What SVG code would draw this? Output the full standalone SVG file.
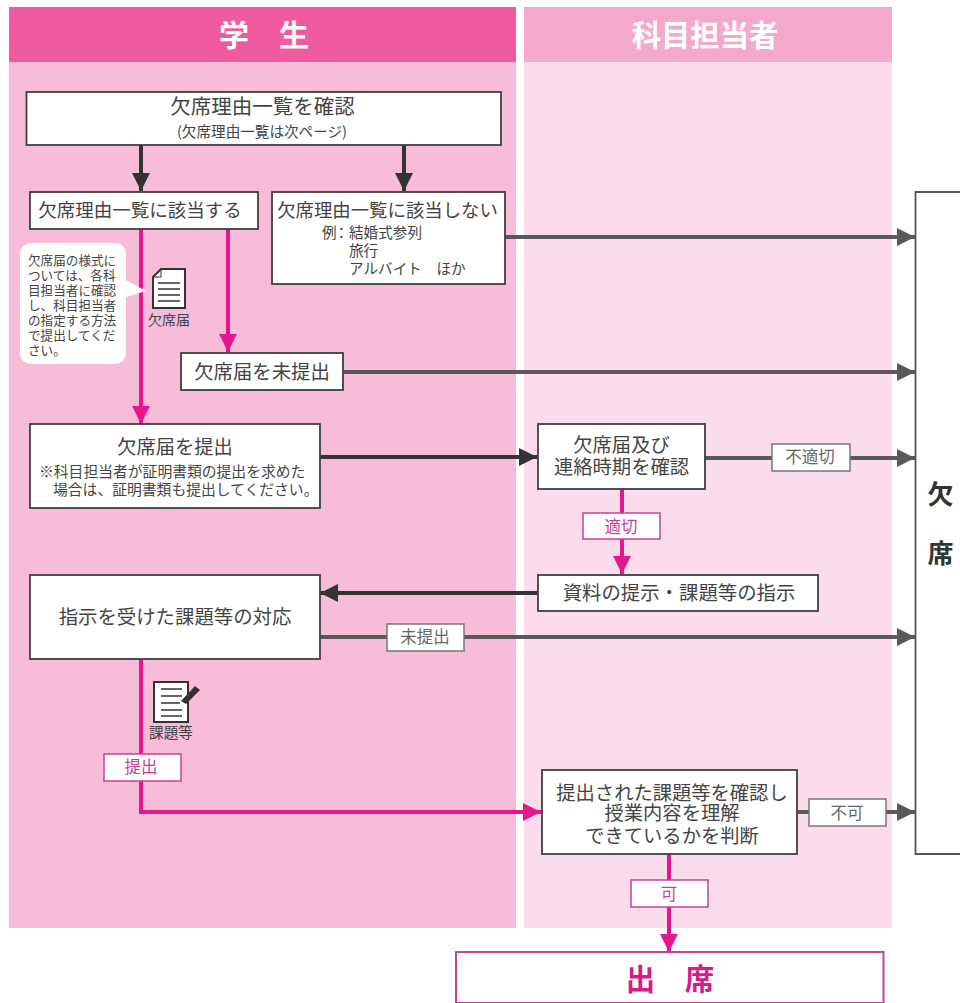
<svg xmlns="http://www.w3.org/2000/svg" width="960" height="1003" viewBox="0 0 960 1003">
<defs>
<marker id="ad" markerUnits="userSpaceOnUse" markerWidth="19" markerHeight="19" refX="18" refY="9" orient="auto"><path d="M0 0L18 9L0 18Z" fill="#333"/></marker>
<marker id="ag" markerUnits="userSpaceOnUse" markerWidth="19" markerHeight="19" refX="18" refY="9" orient="auto"><path d="M0 0L18 9L0 18Z" fill="#595959"/></marker>
<marker id="ap" markerUnits="userSpaceOnUse" markerWidth="19" markerHeight="19" refX="18" refY="9" orient="auto"><path d="M0 0L18 9L0 18Z" fill="#e6168c"/></marker>
</defs>
<style>
text{font-family:"Noto Sans CJK JP","Noto Sans",sans-serif;fill:#444;text-anchor:middle}
.box{fill:#fff;stroke:#3f3f3f;stroke-width:1.8}
.d{stroke:#333;stroke-width:4;fill:none}
.g{stroke:#595959;stroke-width:4;fill:none}
.p{stroke:#e6168c;stroke-width:4;fill:none}
.lg{fill:#fff;stroke:#777;stroke-width:1.5}
.lp{fill:#fff;stroke:#c8409a;stroke-width:1.5}
.h{fill:#fff;font-weight:700}
.t19{font-size:19.3px}.t14{font-size:14.6px}.t16{font-size:16.5px}.t12{font-size:12.6px}
.s{text-anchor:start}
.gt{fill:#666}.pt{fill:#cf3a9a}
</style>
<rect width="960" height="1003" fill="#fff"/>
<g id="lanes">
<rect x="9" y="7" width="507" height="921" fill="#f7bcd7"/>
<rect x="9" y="7" width="507" height="55" fill="#f05a9f"/>
<rect x="524" y="7" width="368" height="921" fill="#fbdcec"/>
<rect x="524" y="7" width="368" height="55" fill="#f4a9cc"/>
<text class="h" x="264" y="46" font-size="30" xml:space="preserve">学　生</text>
<text class="h" x="705" y="46" font-size="29.3">科目担当者</text>
</g>
<g id="connectors">
<path class="d" d="M141 145V191" marker-end="url(#ad)"/>
<path class="d" d="M404 145V191" marker-end="url(#ad)"/>
<path class="p" d="M141 229V424" marker-end="url(#ap)"/>
<path class="p" d="M228 229V352" marker-end="url(#ap)"/>
<path class="g" d="M505 237H915" marker-end="url(#ag)"/>
<path class="g" d="M343 372H915" marker-end="url(#ag)"/>
<path class="d" d="M320 457H537" marker-end="url(#ad)"/>
<path class="g" d="M705 458H915" marker-end="url(#ag)"/>
<path class="p" d="M622 489V574" marker-end="url(#ap)"/>
<path class="d" d="M537 593H320" marker-end="url(#ad)"/>
<path class="g" d="M320 637H915" marker-end="url(#ag)"/>
<path class="p" d="M141 659V812H541" marker-end="url(#ap)"/>
<path class="g" d="M797 812H915" marker-end="url(#ag)"/>
<path class="p" d="M669 854V952" marker-end="url(#ap)"/>
</g>
<g id="n-confirm"><rect class="box" x="26.5" y="92" width="474.5" height="53"/><text x="262.5" y="114" font-size="20.5">欠席理由一覧を確認</text><text x="262" y="137" font-size="14.6">(欠席理由一覧は次ページ)</text></g>
<g id="n-yes"><rect class="box" x="30" y="192" width="228" height="37"/><text x="140" y="217" font-size="18.5">欠席理由一覧に該当する</text></g>
<g id="n-no"><rect class="box" x="272" y="192" width="233" height="92"/><text x="387.5" y="217" font-size="18.4">欠席理由一覧に該当しない</text>
<text class="t14 s" x="322" y="238">例</text><text class="t14 s" x="334" y="238">：</text><text class="t14 s" x="349" y="238">結婚式参列</text><text class="t14 s" x="349" y="256">旅行</text><text class="t14 s" x="349" y="274">アルバイト　ほか</text></g>
<g id="n-note"><path d="M33 243H114Q126 243 126 255V280L146 291L126 297V352Q126 364 114 364H33Q20 364 20 352V255Q20 243 33 243Z" fill="#fff"/>
<text class="t12 s" x="28" y="265">欠席届の様式に</text><text class="t12 s" x="28" y="280">ついては、各科</text><text class="t12 s" x="28" y="295">目担当者に確認</text><text class="t12 s" x="28" y="310">し、科目担当者</text><text class="t12 s" x="28" y="325">の指定する方法</text><text class="t12 s" x="28" y="340">で提出してくだ</text><text class="t12 s" x="28" y="355">さい。</text></g>
<g id="n-form-icon"><path d="M161 269H185V308H153V277Z" fill="#fff" stroke="#333" stroke-width="2"/><path d="M153 277H161V269" fill="none" stroke="#333" stroke-width="1"/><path d="M158 283H180M158 289H180M158 295H180M158 301H180" stroke="#333" stroke-width="1.6"/><text x="169" y="325" font-size="14">欠席届</text></g>
<g id="n-unsub"><rect class="box" x="181" y="353" width="162" height="37"/><text x="262" y="379" font-size="19.4">欠席届を未提出</text></g>
<g id="n-submit"><rect class="box" x="30" y="424" width="290" height="84"/><text class="t19" x="175" y="454">欠席届を提出</text><text class="s" x="39" y="477" font-size="14.8">※科目担当者が証明書類の提出を求めた</text><text class="s" x="53" y="495" font-size="14.8">場合は、証明書類も提出してください。</text></g>
<g id="n-check"><rect class="box" x="538" y="424" width="167" height="65"/><text class="t19" x="621.5" y="452">欠席届及び</text><text class="t19" x="621.5" y="474">連絡時期を確認</text></g>
<g id="l-bad"><rect class="lg" x="772" y="444" width="78" height="27"/><text class="t16 gt" x="810" y="463">不適切</text></g>
<g id="l-ok"><rect class="lp" x="583" y="513" width="77" height="26"/><text class="t16 pt" x="621" y="533">適切</text></g>
<g id="n-instr"><rect class="box" x="538" y="575" width="280" height="36"/><text x="679" y="600" font-size="19.4">資料の提示・課題等の指示</text></g>
<g id="n-task"><rect class="box" x="30" y="575" width="290" height="84"/><text x="175" y="624" font-size="19.4">指示を受けた課題等の対応</text></g>
<g id="l-unsub"><rect class="lg" x="387" y="624" width="77" height="27"/><text class="t16 gt" x="425" y="643">未提出</text></g>
<g id="n-task-icon"><path d="M154 682H188V722H154Z" fill="#fff" stroke="#333" stroke-width="2"/><path d="M161 689H182M161 696H182M161 703H180M161 710H182M161 716H182" stroke="#333" stroke-width="1.5"/><path d="M181 701L195 686L200 690L186 704Z" fill="#333"/><text x="171" y="738" font-size="14.6">課題等</text></g>
<g id="l-sub"><rect class="lp" x="104" y="754" width="77" height="27"/><text class="t16 pt" x="141" y="773">提出</text></g>
<g id="n-judge"><rect class="box" x="542" y="770" width="255" height="84"/><text class="t19" x="672" y="800">提出された課題等を確認し</text><text class="t19" x="672" y="820">授業内容を理解</text><text class="t19" x="672" y="843">できているかを判断</text></g>
<g id="l-ng"><rect class="lg" x="809" y="799" width="77" height="27"/><text class="t16 gt" x="847" y="819">不可</text></g>
<g id="l-yes"><rect class="lp" x="631" y="880" width="77" height="27"/><text class="t16 pt" x="669" y="900">可</text></g>
<g id="n-absent"><path d="M960 192H915.5V854H960" fill="#fff" stroke="#555" stroke-width="1.8"/><text x="940.5" y="503.5" font-size="26" font-weight="700" style="fill:#333">欠</text><text x="940.5" y="563" font-size="26" font-weight="700" style="fill:#333">席</text></g>
<g id="n-present"><rect x="456" y="952" width="427.5" height="51" fill="#fff" stroke="#c8409a" stroke-width="2"/><text x="670" y="990" font-size="29.5" font-weight="700" style="fill:#d91a8c" xml:space="preserve">出　席</text></g>
</svg>
